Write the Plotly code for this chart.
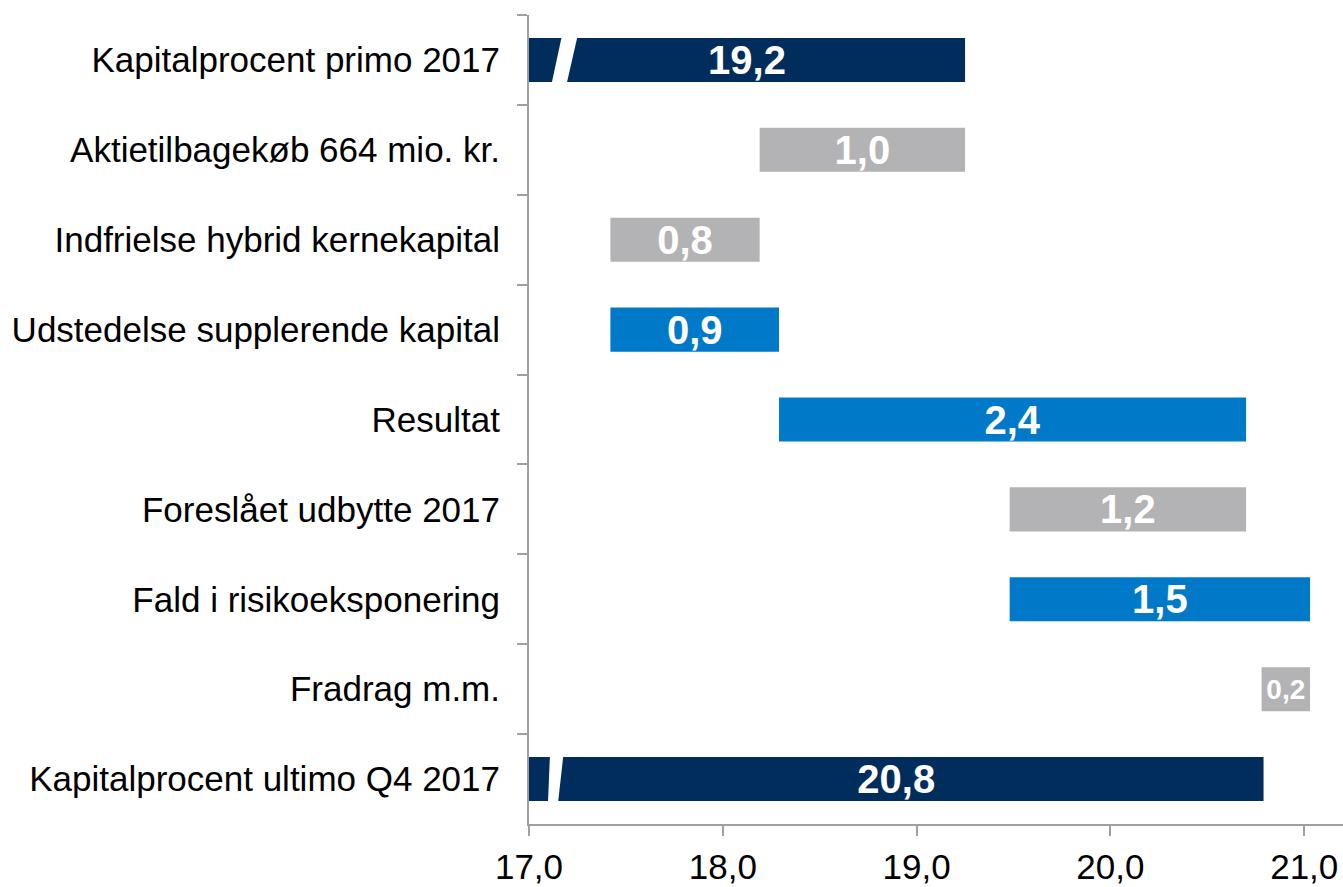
import plotly.graph_objects as go

categories = [
    "Kapitalprocent primo 2017",
    "Aktietilbagekøb 664 mio. kr.",
    "Indfrielse hybrid kernekapital",
    "Udstedelse supplerende kapital",
    "Resultat",
    "Foreslået udbytte 2017",
    "Fald i risikoeksponering",
    "Fradrag m.m.",
    "Kapitalprocent ultimo Q4 2017",
]
bar_start = [17.0, 18.19, 17.42, 17.42, 18.29, 19.48, 19.48, 20.78, 17.0]
bar_end = [19.25, 19.25, 18.19, 18.29, 20.70, 20.70, 21.03, 21.03, 20.79]
value_labels = ["19,2", "1,0", "0,8", "0,9", "2,4", "1,2", "1,5", "0,2", "20,8"]
bar_kind = ["total", "down", "down", "up", "up", "down", "up", "down", "total"]
x_ticks = [17, 18, 19, 20, 21]
x_tick_labels = ["17,0", "18,0", "19,0", "20,0", "21,0"]

kind_color = {"total": "#002D5C", "down": "#B3B3B5", "up": "#0079C9"}
colors = [kind_color[k] for k in bar_kind]
lengths = [e - s for s, e in zip(bar_start, bar_end)]
label_sizes = [40 if (e - s) > 0.5 else 28 for s, e in zip(bar_start, bar_end)]

FONT = "Liberation Sans, Arial, sans-serif"
AXIS_GRAY = "#A0A0A0"

fig = go.Figure()
fig.add_trace(go.Bar(
    y=categories,
    x=lengths,
    base=bar_start,
    orientation="h",
    marker=dict(color=colors, line=dict(width=0)),
    width=0.49,
    text=value_labels,
    textposition="inside",
    insidetextanchor="middle",
    textangle=0,
    constraintext="none",
    textfont=dict(family=FONT, color="white", size=label_sizes, weight="bold"),
    cliponaxis=False,
    hoverinfo="skip",
))

# axis break marks on the total bars
break_marks = {0: (17.117, 17.169, 17.195, 17.25), 8: (17.098, 17.108, 17.15, 17.177)}
for idx, (bl, tl, br, tr) in break_marks.items():
    y0, y1 = idx + 0.26, idx - 0.26
    fig.add_shape(
        type="path",
        path=f"M {bl} {y0} L {tl} {y1} L {tr} {y1} L {br} {y0} Z",
        xref="x", yref="y", fillcolor="white", line=dict(width=0), layer="above",
    )

fig.update_layout(
    width=1343, height=887,
    margin=dict(l=529, r=0, t=15, b=63, autoexpand=False),
    paper_bgcolor="white", plot_bgcolor="white",
    separators=",.",
    showlegend=False,
    font=dict(family=FONT, color="black"),
    bargap=0.51,
)
fig.update_xaxes(
    range=[17, 21.2],
    tickvals=x_ticks,
    ticktext=x_tick_labels,
    automargin=False,
    showgrid=False, zeroline=False,
    showline=True, linecolor=AXIS_GRAY, linewidth=2,
    ticks="outside", ticklen=10, tickwidth=2, tickcolor=AXIS_GRAY,
    tickfont=dict(size=35, family=FONT, color="black"),
    ticklabelstandoff=1,
)
fig.update_yaxes(
    categoryorder="array", categoryarray=categories,
    autorange="reversed",
    automargin=False,
    showgrid=False, zeroline=False,
    showline=True, linecolor=AXIS_GRAY, linewidth=2,
    ticks="outside", ticklen=10, tickwidth=2, tickcolor=AXIS_GRAY,
    tickson="boundaries",
    tickfont=dict(size=35, family=FONT, color="black"),
    ticklabelstandoff=20,
)

fig.write_html(
    "out.html",
    config={"displayModeBar": False},
    post_script="document.body.style.margin='0px';document.body.style.overflow='hidden';",
)
